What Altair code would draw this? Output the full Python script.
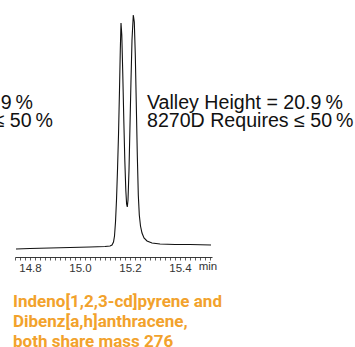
import altair as alt
import pandas as pd

# chromatogram trace (retention time in min, detector response in arbitrary units)
times = [14.744, 14.80, 14.88, 14.96, 15.04, 15.10, 15.12, 15.128, 15.134, 15.138,
         15.142, 15.146, 15.150, 15.154, 15.158, 15.1612, 15.164, 15.1672, 15.1712,
         15.1752, 15.1792, 15.1832, 15.1864, 15.1892, 15.192, 15.196, 15.200, 15.204,
         15.208, 15.2132, 15.2172, 15.2212, 15.2252, 15.2292, 15.2332, 15.2372, 15.242,
         15.248, 15.256, 15.268, 15.288, 15.32, 15.38, 15.44, 15.524]
response = [8, 8.5, 9, 9.5, 10, 10.5, 11, 12, 15, 21,
            35, 57, 87, 122, 167, 207, 234, 222, 182,
            137, 97, 67, 53, 50, 57, 87, 132, 177,
            217, 242, 235, 202, 152, 102, 62, 42, 31,
            24, 19, 16, 14, 13, 12.5, 12.5, 12]

tick_values = [round(14.74 + 0.02 * i, 2) for i in range(40)]
right_lines = ["Valley Height = 20.9\u2009%", "8270D Requires \u2264 50\u2009%"]
left_lines = ["Valley Height = 19.9\u2009%", "8270D Requires \u2264 50\u2009%"]
caption = ["Indeno[1,2,3-cd]pyrene and", "Dibenz[a,h]anthracene,", "both share mass 276"]

df = pd.DataFrame({"t": times, "v": response})

x_scale = alt.Scale(domain=[14.74, 15.528], nice=False, zero=False)
y_scale = alt.Scale(domain=[0, 250], nice=False)

trace = alt.Chart(df).mark_line(color="#111111", strokeWidth=1.1).encode(
    x=alt.X("t:Q", scale=x_scale, axis=alt.Axis(
        values=tick_values, title=None, grid=False,
        labelExpr="abs(datum.value*5 - round(datum.value*5)) < 0.001 ? format(datum.value, '.1f') : ''",
        labelOverlap=False, labelFont="Liberation Sans", labelFontSize=11.5,
        labelColor="#333333", tickSize=3, tickColor="#333333", tickWidth=0.8,
        domainColor="#222222", domainWidth=0.9, labelPadding=2, labelBound=False,
        labelFlush=False)),
    y=alt.Y("v:Q", scale=y_scale, axis=None),
)

min_label = alt.Chart(pd.DataFrame({"s": ["min"]})).mark_text(
    font="Liberation Sans", fontSize=11.5, color="#333333", align="center", baseline="middle"
).encode(x=alt.value(193), y=alt.value(260), text="s:N")

right_df = pd.DataFrame({"s": right_lines, "yy": [101.5, 120]})
right_text = alt.Chart(right_df).mark_text(
    font="Liberation Sans", fontSize=19.6, color="#111111", align="left", baseline="alphabetic"
).encode(x=alt.value(132), y=alt.Y("yy:Q", scale=None), text="s:N")

left_df = pd.DataFrame({"s": left_lines, "yy": [101.5, 120], "xx": [18, 38]})
left_text = alt.Chart(left_df).mark_text(
    font="Liberation Sans", fontSize=19.6, color="#111111", align="right", baseline="alphabetic"
).encode(x=alt.X("xx:Q", scale=None), y=alt.Y("yy:Q", scale=None), text="s:N")

cap_df = pd.DataFrame({"s": caption, "yy": [299.7, 320.3, 339.7]})
cap_text = alt.Chart(cap_df).mark_text(
    font="Roboto", fontWeight="bold", fontSize=17, color="#F2A22C",
    align="left", baseline="alphabetic"
).encode(x=alt.value(-2), y=alt.Y("yy:Q", scale=None), text="s:N")

chart = alt.layer(trace, min_label, right_text, left_text, cap_text).properties(
    width=197, height=250,
    autosize=alt.AutoSizeParams(type="none"),
    padding={"left": 15, "top": 7, "right": 143, "bottom": 90},
).configure_view(stroke=None)

chart.save("out.html", embed_options={"renderer": "svg", "actions": False})
